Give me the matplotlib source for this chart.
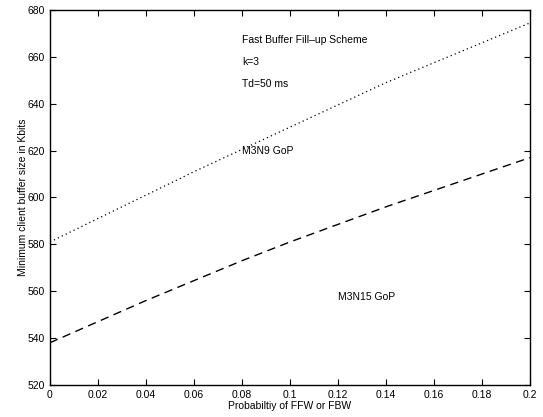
import matplotlib
matplotlib.use("Agg")
import matplotlib.pyplot as plt

# Data
prob = [0, 0.02, 0.04, 0.06, 0.08, 0.1, 0.12, 0.14, 0.16, 0.18, 0.2]
m3n9 = [581, 591, 601, 611, 620.5, 630, 639.5, 649, 657.5, 666, 674.5]
m3n15 = [538, 547, 556, 564.5, 573, 581, 588.5, 596, 603, 610, 617]

xticks = [0, 0.02, 0.04, 0.06, 0.08, 0.1, 0.12, 0.14, 0.16, 0.18, 0.2]
xtick_labels = ["0", "0.02", "0.04", "0.06", "0.08", "0.1", "0.12", "0.14", "0.16", "0.18", "0.2"]
yticks = [520, 540, 560, 580, 600, 620, 640, 660, 680]

plt.rcParams['font.family'] = ['Liberation Sans', 'DejaVu Sans']

fig = plt.figure(figsize=(5.43, 4.17), dpi=100)
ax = fig.add_axes([0.092, 0.077, 0.884, 0.899])

ax.plot(prob, m3n9, color='black', linestyle=(0, (1, 2.5)), linewidth=0.9)
ax.plot(prob, m3n15, color='black', linestyle=(0, (6, 4)), linewidth=1.0)

ax.set_xlim(0, 0.2)
ax.set_ylim(520, 680)
ax.set_xticks(xticks)
ax.set_xticklabels(xtick_labels)
ax.set_yticks(yticks)
ax.tick_params(direction='in', top=True, right=True, labelsize=7.5, length=4, width=0.8)
for s in ax.spines.values():
    s.set_linewidth(1.0)

ax.set_xlabel("Probabiltiy of FFW or FBW", fontsize=7.5, labelpad=1)
ax.set_ylabel("Minimum client buffer size in Kbits", fontsize=7.5, labelpad=0)

ax.text(0.08, 667, "Fast Buffer Fill\u2013up Scheme", fontsize=7.5, va='center')
ax.text(0.08, 658, "k=3", fontsize=7.5, va='center')
ax.text(0.08, 648.5, "Td=50 ms", fontsize=7.5, va='center')
ax.text(0.08, 620, "M3N9 GoP", fontsize=7.5, va='center')
ax.text(0.12, 557.5, "M3N15 GoP", fontsize=7.5, va='center')

fig.savefig("out.png", dpi=100)
